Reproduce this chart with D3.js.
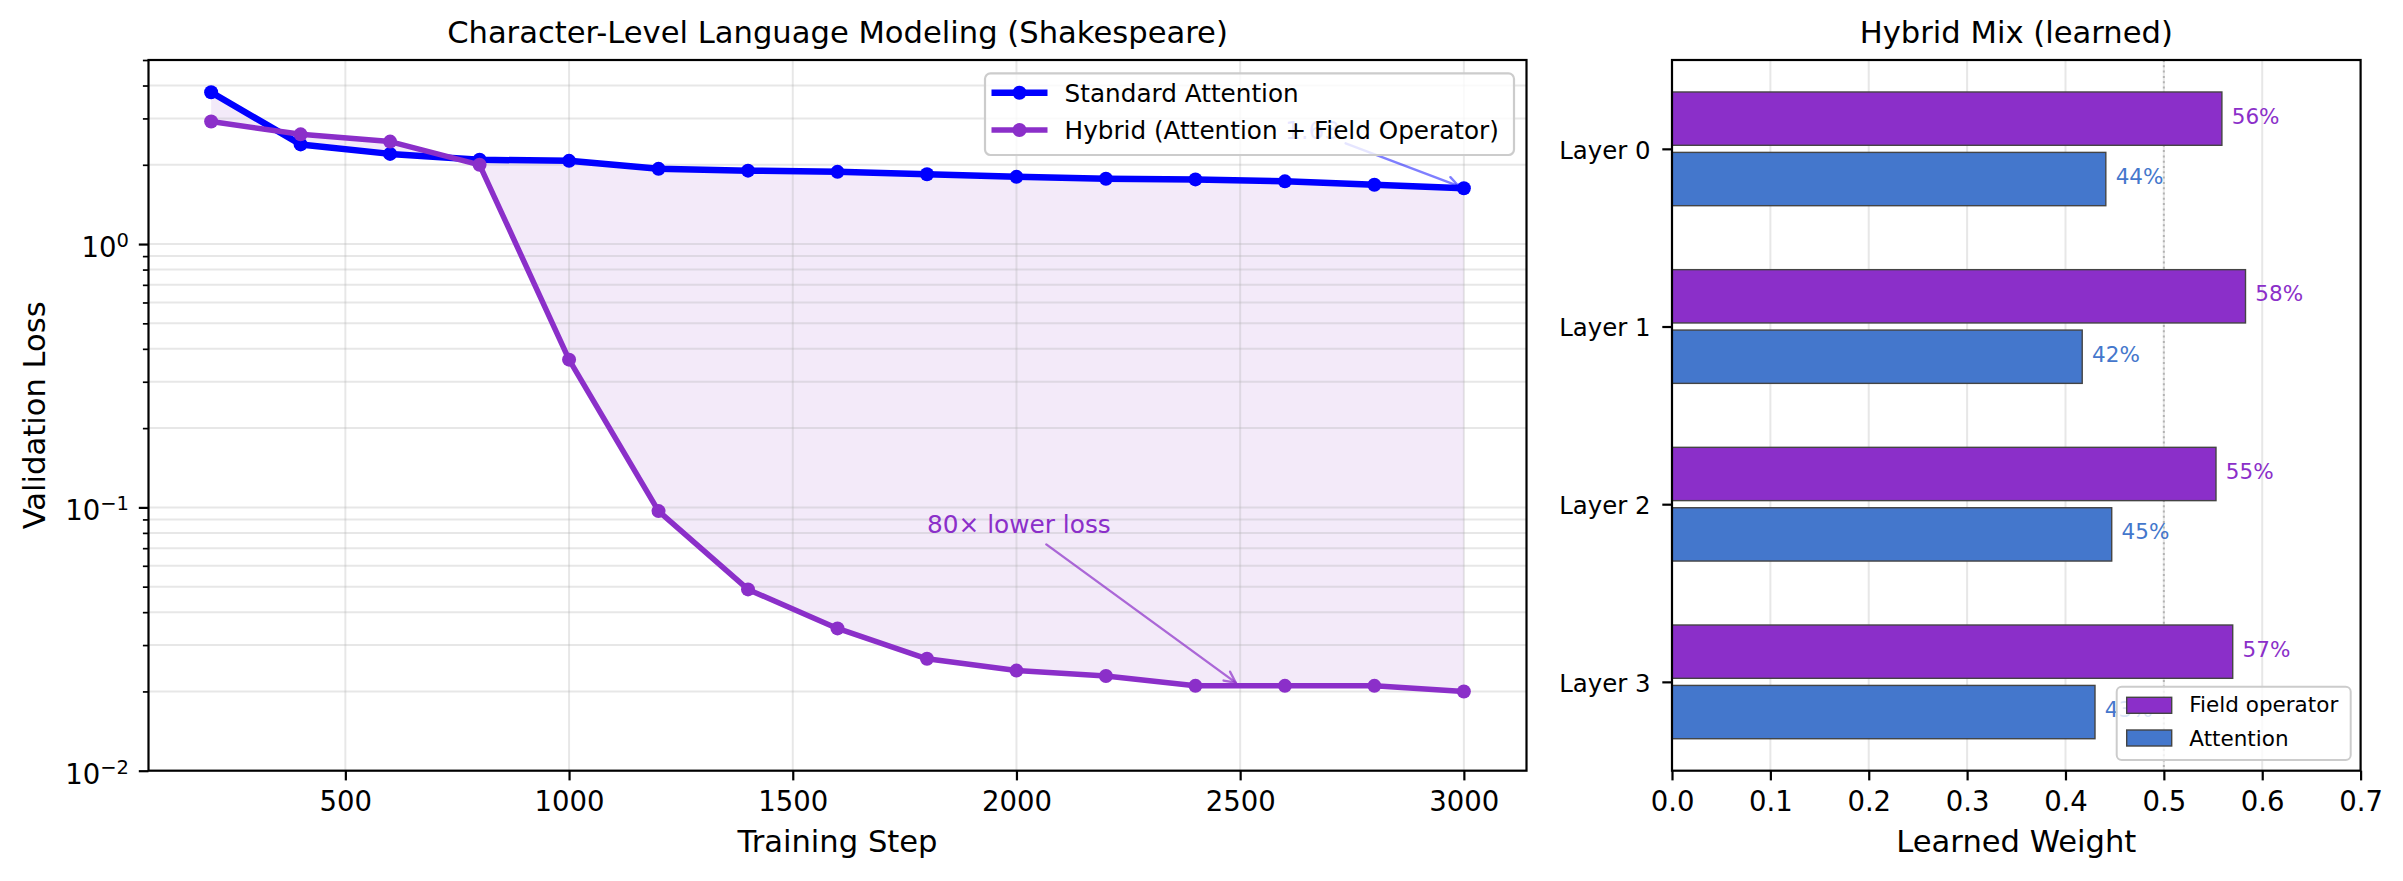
<!DOCTYPE html>
<html>
<head>
<meta charset="utf-8">
<script src="https://cdn.jsdelivr.net/npm/d3@7"></script>
<style>
  body { margin: 0; background: #fff; }
  svg { display: block; font-family: "DejaVu Sans", sans-serif; }
</style>
</head>
<body>
<svg id="chart" width="2403" height="881"></svg>
<script>
// ---------------- DATA ----------------
const steps = [200, 400, 600, 800, 1000, 1200, 1400, 1600, 1800, 2000, 2200, 2400, 2600, 2800, 3000];
const standardLoss = [3.77, 2.39, 2.20, 2.09, 2.07, 1.93, 1.90, 1.88, 1.84, 1.80, 1.77, 1.76, 1.73, 1.68, 1.63];
const hybridLoss = [2.92, 2.61, 2.45, 2.00, 0.364, 0.0968, 0.0488, 0.0347, 0.0266, 0.0240, 0.0229, 0.0210, 0.0210, 0.0210, 0.0200];
const xTicks = [500, 1000, 1500, 2000, 2500, 3000];
const yMajorTicks = [0.01, 0.1, 1];
const yMajorExp = ["\u22122", "\u22121", "0"];

const layers = ["Layer 0", "Layer 1", "Layer 2", "Layer 3"];
const fieldWeight = [0.559, 0.583, 0.553, 0.570];
const attnWeight = [0.441, 0.417, 0.447, 0.430];
const weightTicks = [0, 0.1, 0.2, 0.3, 0.4, 0.5, 0.6, 0.7];

const titleLeft = "Character-Level Language Modeling (Shakespeare)";
const titleRight = "Hybrid Mix (learned)";
const seriesNames = ["Standard Attention", "Hybrid (Attention + Field Operator)"];
const barNames = ["Field operator", "Attention"];

// ---------------- STYLE ----------------
const BLUE = "#0000FF";
const PURPLE = "#8B2FC9";
const BAR_BLUE = "#4477CC";
const GRID = "#e6e6e6";
const TICK_FS = 27.5, LABEL_FS = 30.6, TITLE_FS = 30.6;

const svg = d3.select("#chart");
svg.append("rect").attr("width", 2403).attr("height", 881).attr("fill", "#fff");

// =============== LEFT PANEL ===============
const L = {left: 148.5, right: 1526.5, top: 60, bottom: 770.7};
const x = d3.scaleLinear().domain([60, 3140]).range([L.left, L.right]);
const y = d3.scaleLog().domain([0.01, 5]).range([L.bottom, L.top]);

const gL = svg.append("g");
const clipL = svg.append("clipPath").attr("id", "clipL")
  .append("rect").attr("x", L.left).attr("y", L.top)
  .attr("width", L.right - L.left).attr("height", L.bottom - L.top);

// minor values
const yMinor = [];
[0.01, 0.1, 1].forEach(b => { for (let k = 2; k <= 9; k++) { const v = b * k; if (v <= 5.0001) yMinor.push(v); } });

const plotL = gL.append("g").attr("clip-path", "url(#clipL)");

// fill between
const pts = steps.map((s, i) => ({s, a: standardLoss[i], h: hybridLoss[i]}));
plotL.append("path").datum(pts)
  .attr("d", d3.area().x(d => x(d.s)).y0(d => y(d.a)).y1(d => y(d.h)))
  .attr("fill", PURPLE).attr("fill-opacity", 0.1).attr("stroke", "none");

// grid
plotL.selectAll(".hgrid").data(yMajorTicks.concat(yMinor)).enter().append("line")
  .attr("x1", L.left).attr("x2", L.right)
  .attr("y1", d => y(d)).attr("y2", d => y(d))
  .attr("stroke", "#b0b0b0").attr("stroke-opacity", 0.3).attr("stroke-width", 2);
plotL.selectAll(".vgrid").data(xTicks).enter().append("line")
  .attr("x1", d => x(d)).attr("x2", d => x(d))
  .attr("y1", L.top).attr("y2", L.bottom)
  .attr("stroke", "#b0b0b0").attr("stroke-opacity", 0.3).attr("stroke-width", 2);

// lines
const lineGen = (arr) => d3.line().x((d, i) => x(steps[i])).y(d => y(d))(arr);
plotL.append("path").attr("d", lineGen(standardLoss)).attr("fill", "none")
  .attr("stroke", BLUE).attr("stroke-width", 6.5).attr("stroke-linejoin", "round");
plotL.selectAll(".mA").data(standardLoss).enter().append("circle")
  .attr("cx", (d, i) => x(steps[i])).attr("cy", d => y(d)).attr("r", 7).attr("fill", BLUE);
plotL.append("path").attr("d", lineGen(hybridLoss)).attr("fill", "none")
  .attr("stroke", PURPLE).attr("stroke-width", 5.5).attr("stroke-linejoin", "round");
plotL.selectAll(".mH").data(hybridLoss).enter().append("circle")
  .attr("cx", (d, i) => x(steps[i])).attr("cy", d => y(d)).attr("r", 7).attr("fill", PURPLE);

// annotation helper
function annotate(g, text, xyText, xyTarget, color, textOpacity, arrowOpacity, fs) {
  const t = g.append("text").attr("x", x(xyText[0])).attr("y", y(xyText[1]))
    .attr("font-size", fs).attr("fill", color).attr("fill-opacity", textOpacity).text(text);
  const bb = t.node().getBBox();
  const cx = bb.x + bb.width / 2, cy = bb.y + bb.height / 2;
  const tx = x(xyTarget[0]), ty = y(xyTarget[1]);
  const dx = tx - cx, dy = ty - cy, len = Math.hypot(dx, dy);
  const ux = dx / len, uy = dy / len;
  const shrink = 5.5;
  const hw = bb.width / 2 + shrink, hh = bb.height / 2 + shrink;
  const tEdge = Math.min(Math.abs(hw / (ux || 1e-9)), Math.abs(hh / (uy || 1e-9)));
  const sx = cx + ux * tEdge, sy = cy + uy * tEdge;
  const ex = tx - ux * shrink, ey = ty - uy * shrink;
  const hl = 11, hwid = 5.5;
  const px = -uy, py = ux;
  const a = g.append("g").attr("stroke", color).attr("stroke-opacity", arrowOpacity)
    .attr("stroke-width", 2.4).attr("fill", "none").attr("stroke-linecap", "round");
  a.append("line").attr("x1", sx).attr("y1", sy).attr("x2", ex).attr("y2", ey);
  a.append("path").attr("d",
    `M${ex - ux * hl + px * hwid},${ey - uy * hl + py * hwid}L${ex},${ey}L${ex - ux * hl - px * hwid},${ey - uy * hl - py * hwid}`);
}
const lastI = steps.length - 1;
annotate(gL, standardLoss[lastI].toFixed(2), [2600, 2.5], [steps[lastI], standardLoss[lastI]], BLUE, 0.5, 0.5, 24.8);
annotate(gL, `${Math.round(standardLoss[lastI] / hybridLoss[lastI] / 10) * 10}\u00d7 lower loss`, [1800, 0.08], [2500, hybridLoss[11]], PURPLE, 1, 0.7, 24.8);

// axes
const xAxisL = gL.append("g").attr("transform", `translate(0,${L.bottom})`)
  .call(d3.axisBottom(x).tickValues(xTicks).tickSize(9.7).tickSizeOuter(0).tickFormat(d3.format("d")));
const yAxisMinor = gL.append("g").attr("transform", `translate(${L.left},0)`)
  .call(d3.axisLeft(y).tickValues(yMinor).tickSize(5.6).tickSizeOuter(0).tickFormat(""));
const yAxisL = gL.append("g").attr("transform", `translate(${L.left},0)`)
  .call(d3.axisLeft(y).tickValues(yMajorTicks).tickSize(9.7).tickSizeOuter(0).tickFormat(""));
yAxisMinor.selectAll(".tick line").attr("stroke-width", 1.7);

// y major labels with superscripts
yMajorTicks.forEach((v, i) => {
  const t = gL.append("text").attr("x", L.left - 19.5).attr("y", y(v) + 13)
    .attr("text-anchor", "end").attr("font-size", TICK_FS).attr("fill", "#000");
  t.append("tspan").text("10");
  t.append("tspan").attr("dy", -10).attr("font-size", 19.5).text(yMajorExp[i]);
});

// spines
gL.append("rect").attr("x", L.left).attr("y", L.top).attr("width", L.right - L.left)
  .attr("height", L.bottom - L.top).attr("fill", "none").attr("stroke", "#000").attr("stroke-width", 2.2);

// legend left
const lg = gL.append("g");
lg.append("rect").attr("x", 985).attr("y", 73.3).attr("width", 529).attr("height", 81.7)
  .attr("rx", 5.5).attr("fill", "#fff").attr("fill-opacity", 0.8)
  .attr("stroke", "#cccccc").attr("stroke-width", 2.2);
[[BLUE, 6.5, 92.7, 101.5], [PURPLE, 5.5, 130, 139.2]].forEach((s, i) => {
  lg.append("line").attr("x1", 991.5).attr("x2", 1047.5).attr("y1", s[2]).attr("y2", s[2])
    .attr("stroke", s[0]).attr("stroke-width", s[1]);
  lg.append("circle").attr("cx", 1019.5).attr("cy", s[2]).attr("r", 7).attr("fill", s[0]);
  lg.append("text").attr("x", 1064.6).attr("y", s[3]).attr("font-size", 24.7).attr("fill", "#000").text(seriesNames[i]);
});

// titles & labels
gL.append("text").attr("x", (L.left + L.right) / 2).attr("y", 42.7).attr("text-anchor", "middle")
  .attr("font-size", TITLE_FS).text(titleLeft);
gL.append("text").attr("x", (L.left + L.right) / 2).attr("y", 852).attr("text-anchor", "middle")
  .attr("font-size", LABEL_FS).text("Training Step");
gL.append("text").attr("transform", `translate(45,${(L.top + L.bottom) / 2}) rotate(-90)`)
  .attr("text-anchor", "middle").attr("font-size", LABEL_FS).text("Validation Loss");

// =============== RIGHT PANEL ===============
const R = {left: 1672, right: 2360.6, top: 60, bottom: 770.7};
const xr = d3.scaleLinear().domain([0, 0.7]).range([R.left, R.right]);
const yr = d3.scaleLinear().domain([-0.5, 3.5]).range([R.top, R.bottom]);
const gR = svg.append("g");
const BAR_H = 0.3, OFF = 0.17;

// grid
gR.selectAll(".vg").data(weightTicks.slice(1, -1)).enter().append("line")
  .attr("x1", d => xr(d)).attr("x2", d => xr(d)).attr("y1", R.top).attr("y2", R.bottom)
  .attr("stroke", "#b0b0b0").attr("stroke-opacity", 0.3).attr("stroke-width", 2);
// 0.5 reference line
gR.append("line").attr("x1", xr(0.5)).attr("x2", xr(0.5)).attr("y1", R.top).attr("y2", R.bottom)
  .attr("stroke", "#808080").attr("stroke-opacity", 0.5).attr("stroke-width", 2)
  .attr("stroke-dasharray", "2,3.3");

// bars
gR.selectAll(".bf").data(fieldWeight).enter().append("rect")
  .attr("x", xr(0)).attr("y", (d, i) => yr(i - OFF - BAR_H / 2))
  .attr("width", d => xr(d) - xr(0)).attr("height", yr(BAR_H) - yr(0))
  .attr("fill", PURPLE).attr("stroke", "#444").attr("stroke-width", 1.4);
gR.selectAll(".ba").data(attnWeight).enter().append("rect")
  .attr("x", xr(0)).attr("y", (d, i) => yr(i + OFF - BAR_H / 2))
  .attr("width", d => xr(d) - xr(0)).attr("height", yr(BAR_H) - yr(0))
  .attr("fill", BAR_BLUE).attr("stroke", "#444").attr("stroke-width", 1.4);
// bar labels
const BL_FS = 21.5;
gR.selectAll(".lf").data(fieldWeight).enter().append("text")
  .attr("x", d => xr(d + 0.01)).attr("y", (d, i) => yr(i - OFF) + 5)
  .attr("font-size", BL_FS).attr("fill", PURPLE).text(d => `${Math.round(d * 100)}%`);
gR.selectAll(".la").data(attnWeight).enter().append("text")
  .attr("x", d => xr(d + 0.01)).attr("y", (d, i) => yr(i + OFF) + 5)
  .attr("font-size", BL_FS).attr("fill", BAR_BLUE).text(d => `${Math.round(d * 100)}%`);

// axes
const xAxisR = gR.append("g").attr("transform", `translate(0,${R.bottom})`)
  .call(d3.axisBottom(xr).tickValues(weightTicks).tickSize(9.7).tickSizeOuter(0).tickFormat(d3.format(".1f")));
const yAxisR = gR.append("g").attr("transform", `translate(${R.left},0)`)
  .call(d3.axisLeft(yr).tickValues([0, 1, 2, 3]).tickSize(9.7).tickSizeOuter(0).tickFormat((d, i) => layers[i]));

gR.append("rect").attr("x", R.left).attr("y", R.top).attr("width", R.right - R.left)
  .attr("height", R.bottom - R.top).attr("fill", "none").attr("stroke", "#000").attr("stroke-width", 2.2);

// legend right
const lr = gR.append("g");
lr.append("rect").attr("x", 2116.7).attr("y", 686.7).attr("width", 234).attr("height", 73.3)
  .attr("rx", 5).attr("fill", "#fff").attr("fill-opacity", 0.8)
  .attr("stroke", "#cccccc").attr("stroke-width", 2);
[[PURPLE, 697.3, 712.3], [BAR_BLUE, 730, 746]].forEach((s, i) => {
  lr.append("rect").attr("x", 2126.7).attr("y", s[1]).attr("width", 45).attr("height", 16)
    .attr("fill", s[0]).attr("stroke", "#444").attr("stroke-width", 1.4);
  lr.append("text").attr("x", 2189.3).attr("y", s[2]).attr("font-size", BL_FS).text(barNames[i]);
});

gR.append("text").attr("x", (R.left + R.right) / 2).attr("y", 42.7).attr("text-anchor", "middle")
  .attr("font-size", TITLE_FS).text(titleRight);
gR.append("text").attr("x", (R.left + R.right) / 2).attr("y", 852).attr("text-anchor", "middle")
  .attr("font-size", LABEL_FS).text("Learned Weight");

// common axis styling
svg.selectAll(".domain").remove();
svg.selectAll(".tick line").attr("stroke", "#000").filter(function () { return !this.getAttribute("stroke-width"); }).attr("stroke-width", 2.2);
[xAxisL, xAxisR].forEach(a => a.selectAll("text").attr("dy", null).attr("y", 40.3)
  .attr("font-size", TICK_FS).attr("fill", "#000").attr("font-family", "DejaVu Sans"));
yAxisR.selectAll("text").attr("dy", null).attr("x", -21.5).attr("font-size", 24.4)
  .attr("fill", "#000").attr("font-family", "DejaVu Sans")
  .attr("transform", null).each(function () { d3.select(this).attr("y", 9.3); });
</script>
</body>
</html>
